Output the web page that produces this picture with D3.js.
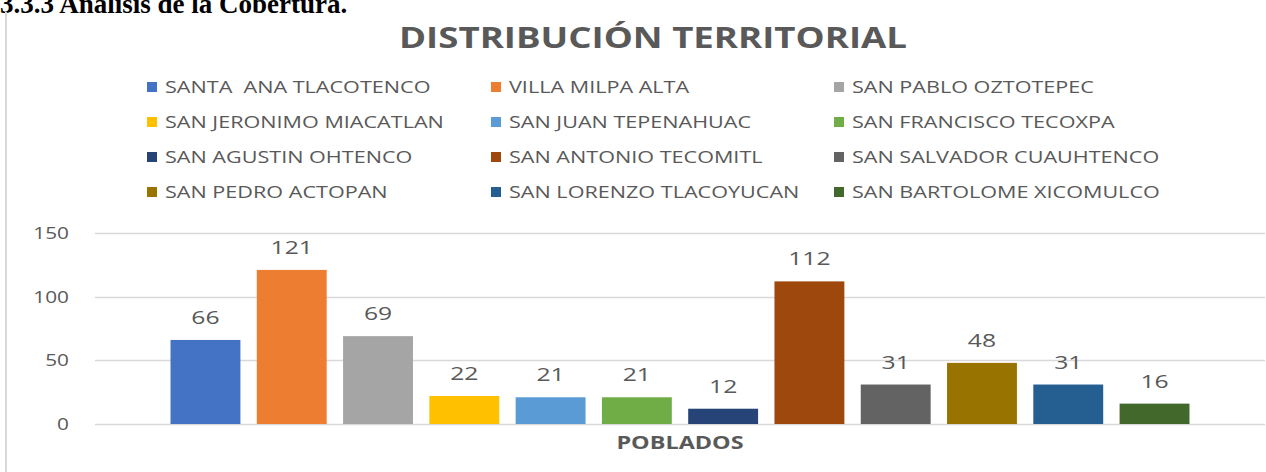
<!DOCTYPE html>
<html><head><meta charset="utf-8">
<script src="https://cdn.jsdelivr.net/npm/d3@7"></script>
<style>body{margin:0;background:#fff}svg{display:block}text{white-space:pre}</style>
</head><body>
<script>
const categories = ["POBLADOS"];
const series = ["SANTA  ANA TLACOTENCO","VILLA MILPA ALTA","SAN PABLO OZTOTEPEC","SAN JERONIMO MIACATLAN","SAN JUAN TEPENAHUAC","SAN FRANCISCO TECOXPA","SAN AGUSTIN OHTENCO","SAN ANTONIO TECOMITL","SAN SALVADOR CUAUHTENCO","SAN PEDRO ACTOPAN","SAN LORENZO TLACOYUCAN","SAN BARTOLOME XICOMULCO"];
const values = [66,121,69,22,21,21,12,112,31,48,31,16];
const colors = ["#4472C4","#ED7D31","#A5A5A5","#FFC000","#5B9BD5","#70AD47","#264478","#9E480E","#636363","#997300","#255E91","#43682B"];
const yTicks = [0,50,100,150];
const title = "DISTRIBUCIÓN TERRITORIAL";
const heading = "3.3.3 Análisis de la Cobertura.";

const W=1266,H=472, SX=1.3, SXL=1.35;
const svg=d3.select("body").append("svg").attr("width",W).attr("height",H);
const txtCol="#595959";

function stretchText(g,x,y,str,anchor,size,weight,sx){
  const gg=g.append("g").attr("transform",`translate(${x},${y}) scale(${sx||SX},1)`);
  return gg.append("text").attr("text-anchor",anchor).attr("font-size",size)
    .attr("font-weight",weight||"normal").attr("fill",txtCol)
    .attr("font-family","'Open Sans', sans-serif").text(str);
}

// heading above chart (cut at the top, as in the source)
svg.append("text").attr("x",0).attr("y",13).attr("font-family","'Liberation Serif', serif")
  .attr("font-weight","bold").attr("font-size",27).attr("fill","#000").text(heading);
// chart frame left edge
svg.append("line").attr("x1",6).attr("x2",6).attr("y1",12).attr("y2",H).attr("stroke","#d9d9d9").attr("stroke-width",2);

// title
svg.append("text").attr("x",653).attr("y",48).attr("text-anchor","middle")
  .attr("font-family","'Open Sans', sans-serif").attr("font-weight","bold").attr("font-size",28)
  .attr("fill",txtCol).attr("textLength",508).attr("lengthAdjust","spacingAndGlyphs").text(title);

// legend
const legX=[147,491,834], legY=[87,122,157,192];
series.forEach((s,i)=>{
  const c=i%3,r=Math.floor(i/3);
  svg.append("rect").attr("x",legX[c]).attr("y",legY[r]-5).attr("width",10).attr("height",10).attr("fill",colors[i]);
  stretchText(svg,legX[c]+18,legY[r]+6,s,"start",16,"normal",SXL);
});

// scales
const plotL=95,plotR=1265,y0=424,y150=233;
const y=d3.scaleLinear().domain([0,150]).range([y0,y150]);
const x0=d3.scaleBand().domain(categories).range([plotL,plotR]).padding(0.069);
const x1=d3.scaleBand().domain(series).range([0,x0.bandwidth()]).paddingInner(0.19);

// gridlines
svg.append("g").selectAll("line").data(yTicks).join("line")
  .attr("x1",plotL).attr("x2",plotR).attr("y1",d=>Math.round(y(d))+0.5).attr("y2",d=>Math.round(y(d))+0.5)
  .attr("stroke","#d9d9d9").attr("stroke-width",1.5);
yTicks.forEach(t=>stretchText(svg,69,y(t)+6,String(t),"end",16));

// bars
const g=svg.append("g").attr("transform",`translate(${x0(categories[0])},0)`);
g.selectAll("rect").data(values).join("rect")
  .attr("x",(d,i)=>x1(series[i])).attr("width",x1.bandwidth())
  .attr("y",d=>y(d)).attr("height",d=>y0-y(d)).attr("fill",(d,i)=>colors[i]);
values.forEach((v,i)=>{
  stretchText(g,x1(series[i])+x1.bandwidth()/2,y(v)-16,String(v),"middle",19);
});

// category label
stretchText(svg,x0(categories[0])+x0.bandwidth()/2,449,categories[0],"middle",18,"bold");
</script>
</body></html>
